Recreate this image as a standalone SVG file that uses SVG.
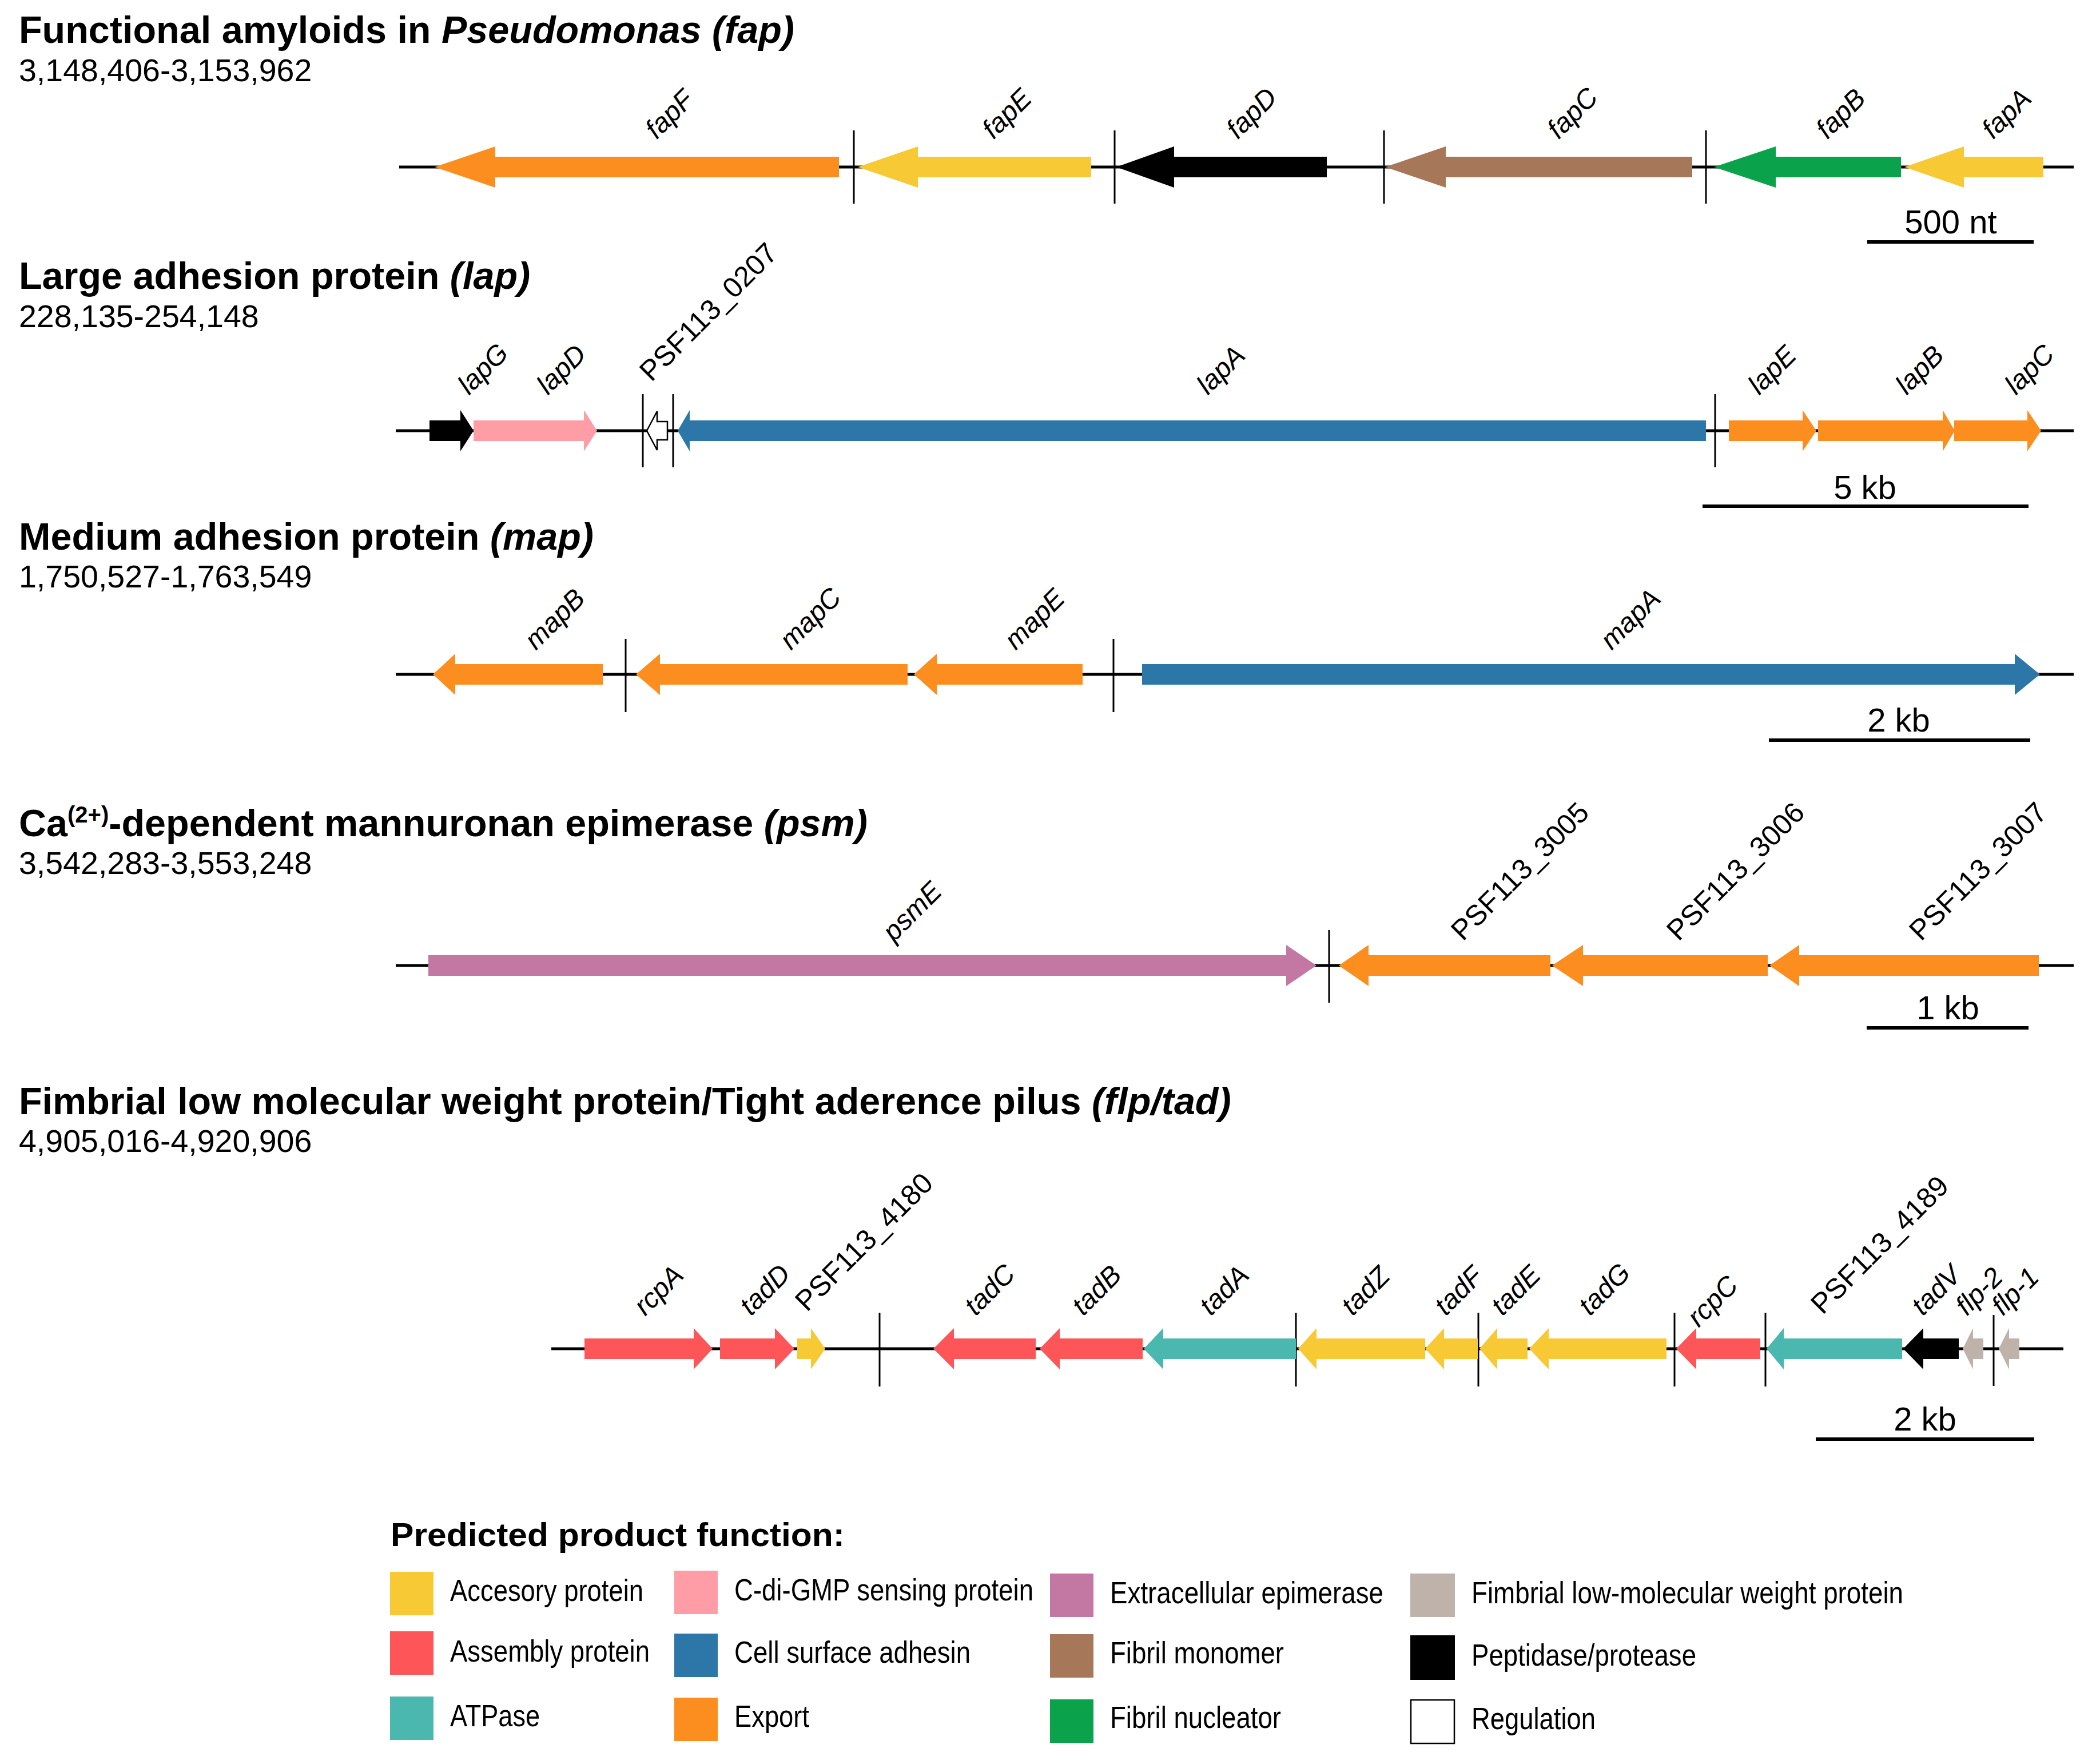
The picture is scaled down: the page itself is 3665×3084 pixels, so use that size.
<svg xmlns="http://www.w3.org/2000/svg" width="3665" height="3084" viewBox="0 0 3665 3084">
<style>
text{font-family:"Liberation Sans",Arial,Helvetica,sans-serif;fill:#000}
.title{font-weight:bold;font-size:66.5px}
.coord{font-size:55.5px}
.lab{font-size:48px;font-style:italic}
.psf{font-size:50px}
.scale{font-size:58px;text-anchor:middle}
.leg{font-size:53px}
.legt{font-weight:bold;font-size:58px}
.bb{stroke:#000;stroke-width:5;fill:none}
.sep{stroke:#000;stroke-width:3;fill:none}
.sc{stroke:#000;stroke-width:6;fill:none}
.acc{fill:#F6C935}.asm{fill:#FD5558}.atp{fill:#4AB8AE}.cdi{fill:#FE9DA6}.csa{fill:#2D77A8}
.exp{fill:#FC8E1F}.epi{fill:#C278A2}.mon{fill:#A67759}.nuc{fill:#0AA24B}.fim{fill:#BEB2AB}
.pep{fill:#000}.reg{fill:#fff;stroke:#000;stroke-width:2.5}
</style>

<!-- ============ Titles ============ -->
<g id="titles">
<text class="title" x="33" y="75">Functional amyloids in <tspan font-style="italic">Pseudomonas (fap)</tspan></text>
<text class="coord" x="33" y="142">3,148,406-3,153,962</text>
<text class="title" x="33" y="505">Large adhesion protein <tspan font-style="italic">(lap)</tspan></text>
<text class="coord" x="33" y="572">228,135-254,148</text>
<text class="title" x="33" y="961">Medium adhesion protein <tspan font-style="italic">(map)</tspan></text>
<text class="coord" x="33" y="1027">1,750,527-1,763,549</text>
<text class="title" x="33" y="1462">Ca<tspan font-size="40" dy="-24">(2+)</tspan><tspan dy="24">-dependent mannuronan epimerase </tspan><tspan font-style="italic">(psm)</tspan></text>
<text class="coord" x="33" y="1528">3,542,283-3,553,248</text>
<text class="title" x="33" y="1948">Fimbrial low molecular weight protein/Tight aderence pilus <tspan font-style="italic">(flp/tad)</tspan></text>
<text class="coord" x="33" y="2014">4,905,016-4,920,906</text>
</g>

<!-- ============ Connectors: backbones and separators ============ -->
<g id="connectors">
<line class="bb" x1="698" y1="292" x2="3626" y2="292"/>
<line class="bb" x1="692" y1="753" x2="3626" y2="753"/>
<line class="bb" x1="692" y1="1179" x2="3626" y2="1179"/>
<line class="bb" x1="692" y1="1688" x2="3626" y2="1688"/>
<line class="bb" x1="964" y1="2358" x2="3608" y2="2358"/>
<!-- separators -->
<line class="sep" x1="1493" y1="228" x2="1493" y2="356"/>
<line class="sep" x1="1949" y1="228" x2="1949" y2="356"/>
<line class="sep" x1="2420" y1="228" x2="2420" y2="356"/>
<line class="sep" x1="2983" y1="228" x2="2983" y2="356"/>
<line class="sep" x1="1124" y1="689" x2="1124" y2="817"/>
<line class="sep" x1="1177" y1="689" x2="1177" y2="817"/>
<line class="sep" x1="2999" y1="689" x2="2999" y2="817"/>
<line class="sep" x1="1094" y1="1117" x2="1094" y2="1245"/>
<line class="sep" x1="1947" y1="1117" x2="1947" y2="1245"/>
<line class="sep" x1="2324" y1="1626" x2="2324" y2="1753"/>
<line class="sep" x1="1538" y1="2295" x2="1538" y2="2424"/>
<line class="sep" x1="2266" y1="2295" x2="2266" y2="2424"/>
<line class="sep" x1="2585" y1="2295" x2="2585" y2="2424"/>
<line class="sep" x1="2928" y1="2295" x2="2928" y2="2424"/>
<line class="sep" x1="3087" y1="2295" x2="3087" y2="2424"/>
<line class="sep" x1="3486" y1="2299" x2="3486" y2="2423"/>
</g>

<!-- ============ fap cluster ============ -->
<g id="fapF"><polygon class="exp" points="760,292 866,256 866,274 1467,274 1467,310 866,310 866,328"/><text class="lab" transform="translate(1148,245) rotate(-45)">fapF</text></g>
<g id="fapE"><polygon class="acc" points="1500,292 1605,256 1605,274 1908,274 1908,310 1605,310 1605,328"/><text class="lab" transform="translate(1737,245) rotate(-45)">fapE</text></g>
<g id="fapD"><polygon class="pep" points="1952,292 2053,256 2053,274 2320,274 2320,310 2053,310 2053,328"/><text class="lab" transform="translate(2164,245) rotate(-45)">fapD</text></g>
<g id="fapC"><polygon class="mon" points="2422,292 2528,256 2528,274 2959,274 2959,310 2528,310 2528,328"/><text class="lab" transform="translate(2725,245) rotate(-45)">fapC</text></g>
<g id="fapB"><polygon class="nuc" points="2997,292 3105,256 3105,274 3324,274 3324,310 3105,310 3105,328"/><text class="lab" transform="translate(3195,245) rotate(-45)">fapB</text></g>
<g id="fapA"><polygon class="acc" points="3330,292 3434,256 3434,274 3573,274 3573,310 3434,310 3434,328"/><text class="lab" transform="translate(3485,245) rotate(-45)">fapA</text></g>
<g id="scale-fap"><line class="sc" x1="3265" y1="423" x2="3556" y2="423"/><text class="scale" x="3411" y="408">500 nt</text></g>

<!-- ============ lap cluster ============ -->
<g id="lapG"><polygon class="pep" points="751,735 805,735 805,717 828,753 805,789 805,771 751,771"/><text class="lab" transform="translate(820,692) rotate(-45)">lapG</text></g>
<g id="lapD"><polygon class="cdi" points="828,735 1021,735 1021,717 1044,753 1021,789 1021,771 828,771"/><text class="lab" transform="translate(958,692) rotate(-45)">lapD</text></g>
<g id="PSF113_0207"><polygon class="reg" points="1131,753 1149,719 1149,737 1167,737 1167,769 1149,769 1149,787"/><text class="psf" transform="translate(1139,669) rotate(-45)">PSF113_0207</text></g>
<g id="lapA"><polygon class="csa" points="1185,753 1206,717 1206,735 2983,735 2983,771 1206,771 1206,789"/><text class="lab" transform="translate(2112,692) rotate(-45)">lapA</text></g>
<g id="lapE"><polygon class="exp" points="3023,735 3152,735 3152,717 3176,753 3152,789 3152,771 3023,771"/><text class="lab" transform="translate(3076,692) rotate(-45)">lapE</text></g>
<g id="lapB"><polygon class="exp" points="3179,735 3397,735 3397,717 3418,753 3397,789 3397,771 3179,771"/><text class="lab" transform="translate(3334,692) rotate(-45)">lapB</text></g>
<g id="lapC"><polygon class="exp" points="3417,735 3545,735 3545,717 3569,753 3545,789 3545,771 3417,771"/><text class="lab" transform="translate(3525,692) rotate(-45)">lapC</text></g>
<g id="scale-lap"><line class="sc" x1="2977" y1="885" x2="3547" y2="885"/><text class="scale" x="3261" y="872">5 kb</text></g>

<!-- ============ map cluster ============ -->
<g id="mapB"><polygon class="exp" points="757,1179 796,1143 796,1161 1054,1161 1054,1197 796,1197 796,1215"/><text class="lab" transform="translate(937,1138) rotate(-45)">mapB</text></g>
<g id="mapC"><polygon class="exp" points="1112,1179 1154,1143 1154,1161 1587,1161 1587,1197 1154,1197 1154,1215"/><text class="lab" transform="translate(1383,1138) rotate(-45)">mapC</text></g>
<g id="mapE"><polygon class="exp" points="1598,1179 1638,1143 1638,1161 1893,1161 1893,1197 1638,1197 1638,1215"/><text class="lab" transform="translate(1776,1138) rotate(-45)">mapE</text></g>
<g id="mapA"><polygon class="csa" points="1997,1161 3523,1161 3523,1143 3567,1179 3523,1215 3523,1197 1997,1197"/><text class="lab" transform="translate(2818,1138) rotate(-45)">mapA</text></g>
<g id="scale-map"><line class="sc" x1="3093" y1="1294" x2="3550" y2="1294"/><text class="scale" x="3320" y="1279">2 kb</text></g>

<!-- ============ psm cluster ============ -->
<g id="psmE"><polygon class="epi" points="749,1670 2249,1670 2249,1652 2302,1688 2249,1724 2249,1706 749,1706"/><text class="lab" transform="translate(1563,1648) rotate(-45)">psmE</text></g>
<g id="PSF113_3005"><polygon class="exp" points="2341,1688 2393,1652 2393,1670 2711,1670 2711,1706 2393,1706 2393,1724"/><text class="psf" transform="translate(2558,1647) rotate(-45)">PSF113_3005</text></g>
<g id="PSF113_3006"><polygon class="exp" points="2714,1688 2768,1652 2768,1670 3091,1670 3091,1706 2768,1706 2768,1724"/><text class="psf" transform="translate(2935,1647) rotate(-45)">PSF113_3006</text></g>
<g id="PSF113_3007"><polygon class="exp" points="3094,1688 3146,1652 3146,1670 3565,1670 3565,1706 3146,1706 3146,1724"/><text class="psf" transform="translate(3359,1647) rotate(-45)">PSF113_3007</text></g>
<g id="scale-psm"><line class="sc" x1="3264" y1="1797" x2="3547" y2="1797"/><text class="scale" x="3406" y="1782">1 kb</text></g>

<!-- ============ flp/tad cluster ============ -->
<g id="rcpA"><polygon class="asm" points="1022,2340 1213,2340 1213,2322 1246,2358 1213,2394 1213,2376 1022,2376"/><text class="lab" transform="translate(1128,2302) rotate(-45)">rcpA</text></g>
<g id="tadD"><polygon class="asm" points="1259,2340 1355,2340 1355,2322 1389,2358 1355,2394 1355,2376 1259,2376"/><text class="lab" transform="translate(1313,2302) rotate(-45)">tadD</text></g>
<g id="PSF113_4180"><polygon class="acc" points="1394,2340 1418,2340 1418,2322 1443,2358 1418,2394 1418,2376 1394,2376"/><text class="psf" transform="translate(1411,2295) rotate(-45)">PSF113_4180</text></g>
<g id="tadC"><polygon class="asm" points="1632,2358 1668,2322 1668,2340 1811,2340 1811,2376 1668,2376 1668,2394"/><text class="lab" transform="translate(1706,2302) rotate(-45)">tadC</text></g>
<g id="tadB"><polygon class="asm" points="1818,2358 1853,2322 1853,2340 1998,2340 1998,2376 1853,2376 1853,2394"/><text class="lab" transform="translate(1894,2302) rotate(-45)">tadB</text></g>
<g id="tadA"><polygon class="atp" points="2000,2358 2034,2322 2034,2340 2266,2340 2266,2376 2034,2376 2034,2394"/><text class="lab" transform="translate(2117,2302) rotate(-45)">tadA</text></g>
<g id="tadZ"><polygon class="acc" points="2270,2358 2302,2322 2302,2340 2492,2340 2492,2376 2302,2376 2302,2394"/><text class="lab" transform="translate(2365,2302) rotate(-45)">tadZ</text></g>
<g id="tadF"><polygon class="acc" points="2492,2358 2525,2322 2525,2340 2584,2340 2584,2376 2525,2376 2525,2394"/><text class="lab" transform="translate(2528,2302) rotate(-45)">tadF</text></g>
<g id="tadE"><polygon class="acc" points="2587,2358 2618,2322 2618,2340 2671,2340 2671,2376 2618,2376 2618,2394"/><text class="lab" transform="translate(2627,2302) rotate(-45)">tadE</text></g>
<g id="tadG"><polygon class="acc" points="2674,2358 2708,2322 2708,2340 2914,2340 2914,2376 2708,2376 2708,2394"/><text class="lab" transform="translate(2780,2302) rotate(-45)">tadG</text></g>
<g id="rcpC"><polygon class="asm" points="2931,2358 2966,2322 2966,2340 3078,2340 3078,2376 2966,2376 2966,2394"/><text class="lab" transform="translate(2970,2322) rotate(-45)">rcpC</text></g>
<g id="PSF113_4189"><polygon class="atp" points="3089,2358 3119,2322 3119,2340 3326,2340 3326,2376 3119,2376 3119,2394"/><text class="psf" transform="translate(3187,2300) rotate(-45)">PSF113_4189</text></g>
<g id="tadV"><polygon class="pep" points="3328,2358 3363,2322 3363,2340 3425,2340 3425,2376 3363,2376 3363,2394"/><text class="lab" transform="translate(3362,2302) rotate(-45)">tadV</text></g>
<g id="flp-2"><polygon class="fim" points="3432,2358 3450,2322 3450,2340 3468,2340 3468,2376 3450,2376 3450,2394"/><text class="lab" transform="translate(3439,2302) rotate(-45)">flp-2</text></g>
<g id="flp-1"><polygon class="fim" points="3495,2358 3513,2322 3513,2340 3531,2340 3531,2376 3513,2376 3513,2394"/><text class="lab" transform="translate(3502,2302) rotate(-45)">flp-1</text></g>
<g id="scale-tad"><line class="sc" x1="3175" y1="2516" x2="3557" y2="2516"/><text class="scale" x="3366" y="2501">2 kb</text></g>

<!-- ============ Legend ============ -->
<g id="legend">
<text class="legt" x="683" y="2703" textLength="794" lengthAdjust="spacingAndGlyphs">Predicted product function:</text>
<g id="leg-accessory"><rect class="acc" x="682" y="2748" width="76" height="76"/><text class="leg" x="787" y="2799" textLength="338" lengthAdjust="spacingAndGlyphs">Accesory protein</text></g>
<g id="leg-assembly"><rect class="asm" x="682" y="2852" width="76" height="76"/><text class="leg" x="787" y="2905" textLength="349" lengthAdjust="spacingAndGlyphs">Assembly protein</text></g>
<g id="leg-atpase"><rect class="atp" x="682" y="2966" width="76" height="76"/><text class="leg" x="787" y="3018" textLength="157" lengthAdjust="spacingAndGlyphs">ATPase</text></g>
<g id="leg-cdigmp"><rect class="cdi" x="1179" y="2746" width="76" height="76"/><text class="leg" x="1284" y="2798" textLength="523" lengthAdjust="spacingAndGlyphs">C-di-GMP sensing protein</text></g>
<g id="leg-adhesin"><rect class="csa" x="1179" y="2856" width="76" height="76"/><text class="leg" x="1284" y="2907" textLength="413" lengthAdjust="spacingAndGlyphs">Cell surface adhesin</text></g>
<g id="leg-export"><rect class="exp" x="1179" y="2968" width="76" height="76"/><text class="leg" x="1284" y="3019" textLength="131" lengthAdjust="spacingAndGlyphs">Export</text></g>
<g id="leg-epimerase"><rect class="epi" x="1836" y="2751" width="76" height="76"/><text class="leg" x="1941" y="2803" textLength="478" lengthAdjust="spacingAndGlyphs">Extracellular epimerase</text></g>
<g id="leg-monomer"><rect class="mon" x="1836" y="2857" width="76" height="76"/><text class="leg" x="1941" y="2908" textLength="304" lengthAdjust="spacingAndGlyphs">Fibril monomer</text></g>
<g id="leg-nucleator"><rect class="nuc" x="1836" y="2971" width="76" height="76"/><text class="leg" x="1941" y="3021" textLength="299" lengthAdjust="spacingAndGlyphs">Fibril nucleator</text></g>
<g id="leg-fimbrial"><rect class="fim" x="2466" y="2751" width="78" height="76"/><text class="leg" x="2573" y="2803" textLength="755" lengthAdjust="spacingAndGlyphs">Fimbrial low-molecular weight protein</text></g>
<g id="leg-peptidase"><rect class="pep" x="2466" y="2859" width="78" height="78"/><text class="leg" x="2573" y="2912" textLength="393" lengthAdjust="spacingAndGlyphs">Peptidase/protease</text></g>
<g id="leg-regulation"><rect class="reg" x="2467" y="2972" width="76" height="76"/><text class="leg" x="2573" y="3023" textLength="217" lengthAdjust="spacingAndGlyphs">Regulation</text></g>
</g>
</svg>
